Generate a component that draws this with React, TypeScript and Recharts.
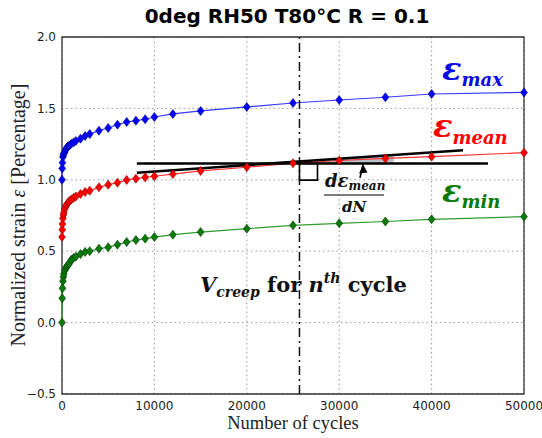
import { ComposedChart, Line, Area, XAxis, YAxis, CartesianGrid, ReferenceLine, ReferenceArea, ReferenceDot } from 'recharts';

// cycle counts where strain was sampled
const cycles = [0, 25, 50, 100, 150, 200, 300, 400, 500, 600, 700, 800, 1000, 1250, 1500, 2000, 2500, 3000, 4000, 5000, 6000, 7000, 8000, 9000, 10000, 12000, 15000, 20000, 25000, 30000, 35000, 40000, 50000];
const strainMax = [1.0, 1.08, 1.12, 1.16, 1.175, 1.185, 1.195, 1.21, 1.225, 1.23, 1.235, 1.24, 1.252, 1.262, 1.272, 1.288, 1.307, 1.32, 1.344, 1.363, 1.386, 1.405, 1.414, 1.424, 1.44, 1.461, 1.482, 1.51, 1.538, 1.559, 1.578, 1.601, 1.612];
const strainMean = [0.6, 0.65, 0.69, 0.73, 0.755, 0.77, 0.795, 0.812, 0.825, 0.835, 0.843, 0.85, 0.862, 0.873, 0.883, 0.9, 0.915, 0.924, 0.947, 0.966, 0.98, 0.999, 1.008, 1.017, 1.025, 1.04, 1.062, 1.088, 1.116, 1.135, 1.15, 1.162, 1.19];
const strainMin = [0.0, 0.17, 0.24, 0.29, 0.32, 0.34, 0.365, 0.38, 0.39, 0.4, 0.408, 0.415, 0.44, 0.453, 0.462, 0.48, 0.495, 0.5, 0.518, 0.527, 0.546, 0.564, 0.578, 0.588, 0.599, 0.616, 0.634, 0.658, 0.681, 0.695, 0.708, 0.723, 0.742];

const xTicks = [0, 10000, 20000, 30000, 40000, 50000];
const yTicks = [-0.5, 0, 0.5, 1.0, 1.5, 2.0];

// annotation: n-th cycle, tangent and horizontal reference lines
const nthCycle = 25700;
const tangentStart = { N: 8100, v: 1.05 };
const tangentEnd = { N: 43400, v: 1.207 };
const levelStart = 8100;
const levelEnd = 46100;
const levelValue = 1.115;
const slopeBand = [
  { N: 25700, band: [1.115, 1.128] },
  { N: 35900, band: [1.115, 1.174] },
];
const arrowTail = { N: 32250, v: 1.013 };
const arrowTip = { N: 32580, v: 1.108 };

const rows = cycles.map((N, i) => ({ N, max: strainMax[i], mean: strainMean[i], min: strainMin[i] }));

const fmt = (v: number) => (v < 0 ? '\u2212' + Math.abs(v).toFixed(1) : v.toFixed(1));

const diamond = (fill: string, edge: string) => (p: any) => {
  const { cx, cy, index } = p;
  if (cx == null || cy == null) return <g key={index} />;
  return (
    <path
      key={index}
      d={`M${cx},${cy - 4.5}L${cx + 3.4},${cy}L${cx},${cy + 4.5}L${cx - 3.4},${cy}Z`}
      fill={fill}
      stroke={edge}
      strokeWidth={0.6}
    />
  );
};

const arrowHead = (p: any) => {
  const { cx, cy } = p;
  return <path d={`M${cx},${cy}L${cx - 4},${cy + 9}L${cx + 4.5},${cy + 8}Z`} fill="#000" />;
};

const serif = '"Liberation Serif", "Times New Roman", serif';
const mathFont = '"DejaVu Serif", serif';
const sans = '"DejaVu Sans", sans-serif';

export default function App() {
  return (
    <div style={{ position: 'relative', width: 542, height: 438, background: '#fff' }}>
      <style>{`body{margin:0}`}</style>
      <ComposedChart width={542} height={438} data={rows} margin={{ top: 37, right: 18, bottom: 14, left: 0 }}>
        <CartesianGrid stroke="#9a9a9a" strokeDasharray="1.5 3" />
        <XAxis
          type="number" dataKey="N" domain={[0, 50000]} ticks={xTicks} interval={0}
          height={30} tickSize={5} tickMargin={2} tickLine={false} axisLine={false}
          tick={{ fontSize: 12, fill: '#222', fontFamily: sans }}
        />
        <YAxis
          type="number" domain={[-0.5, 2.0]} ticks={yTicks} interval={0}
          width={62} tickSize={4} tickMargin={2} tickLine={false} axisLine={false}
          tickFormatter={fmt}
          tick={{ fontSize: 12, fill: '#222', fontFamily: sans }}
        />
        <Line dataKey="max" stroke="#3a3aff" strokeWidth={1.2} dot={diamond('#0000ff', '#00007a')} isAnimationActive={false} />
        <Line dataKey="mean" stroke="#ff3030" strokeWidth={1.2} dot={diamond('#ff0000', '#8a0000')} isAnimationActive={false} />
        <Line dataKey="min" stroke="#2f9a2f" strokeWidth={1.2} dot={diamond('#0b7a0b', '#003a00')} isAnimationActive={false} />
        <Area data={slopeBand} dataKey="band" type="linear" stroke="none" fill="#b7c0c9" fillOpacity={1} isAnimationActive={false} />
        <ReferenceLine x={nthCycle} stroke="#111" strokeWidth={1.5} strokeDasharray="9 4 2 4" />
        <ReferenceLine
          segment={[{ x: tangentStart.N, y: tangentStart.v }, { x: tangentEnd.N, y: tangentEnd.v }]}
          stroke="#000" strokeWidth={2.5}
        />
        <ReferenceLine
          segment={[{ x: levelStart, y: levelValue }, { x: levelEnd, y: levelValue }]}
          stroke="#000" strokeWidth={2.5}
        />
        <ReferenceArea x1={nthCycle} x2={27650} y1={0.998} y2={levelValue} fill="none" stroke="#000" strokeWidth={1.6} />
        <ReferenceLine
          segment={[{ x: arrowTail.N, y: arrowTail.v }, { x: arrowTip.N, y: arrowTip.v }]}
          stroke="#000" strokeWidth={1.6}
        />
        <ReferenceDot x={arrowTip.N} y={arrowTip.v} shape={arrowHead} />
        <ReferenceArea x1={0} x2={50000} y1={-0.5} y2={2.0} fill="none" stroke="#333" strokeWidth={1.3} />
      </ComposedChart>

      {/* text overlay */}
      <svg width={542} height={438} style={{ position: 'absolute', left: 0, top: 0, pointerEvents: 'none', whiteSpace: 'pre' }}>
        <text x={287} y={23} textAnchor="middle" fontFamily={sans} fontWeight="bold" fontSize={20} fill="#000">
          0deg RH50 T80°C R = 0.1
        </text>
        <text x={293} y={429} textAnchor="middle" fontFamily={serif} fontSize={18.5} fill="#222">
          Number of cycles
        </text>
        <text x={25} y={215} textAnchor="middle" fontFamily={serif} fontSize={20} fill="#222" transform="rotate(-90, 25, 215)">
          Normalized strain <tspan fontStyle="italic">ε</tspan> [Percentage]
        </text>

        <text x={442} y={80} fontFamily={mathFont} fontWeight="bold" fontStyle="italic" fill="#0a0ae6">
          <tspan fontSize={32}>ε</tspan><tspan fontSize={18} dy={6}>max</tspan>
        </text>
        <text x={433} y={137} fontFamily={mathFont} fontWeight="bold" fontStyle="italic" fill="#ff0000">
          <tspan fontSize={32}>ε</tspan><tspan fontSize={18} dy={7}>mean</tspan>
        </text>
        <text x={442} y={201.5} fontFamily={mathFont} fontWeight="bold" fontStyle="italic" fill="#0a7a0a">
          <tspan fontSize={32}>ε</tspan><tspan fontSize={18} dy={6.5}>min</tspan>
        </text>

        <text x={325} y={187} fontFamily={mathFont} fontWeight="bold" fontStyle="italic" fill="#111">
          <tspan fontSize={18}>dε</tspan><tspan fontSize={12} dy={3}>mean</tspan>
        </text>
        <line x1={324} x2={384} y1={195} y2={195} stroke="#555" strokeWidth={1.5} />
        <text x={354} y={212} textAnchor="middle" fontFamily={mathFont} fontWeight="bold" fontStyle="italic" fontSize={15} fill="#111">
          dN
        </text>

        <text x={200} y={292} fontFamily={mathFont} fontWeight="bold" fontSize={21} fill="#111">
          <tspan fontStyle="italic">V</tspan>
          <tspan fontStyle="italic" fontSize={14} dy={5}>creep</tspan>
          <tspan dy={-5}> for </tspan>
          <tspan fontStyle="italic">n</tspan>
          <tspan fontStyle="italic" fontSize={14} dy={-9}>th</tspan>
          <tspan dy={9}> cycle</tspan>
        </text>
      </svg>
    </div>
  );
}
